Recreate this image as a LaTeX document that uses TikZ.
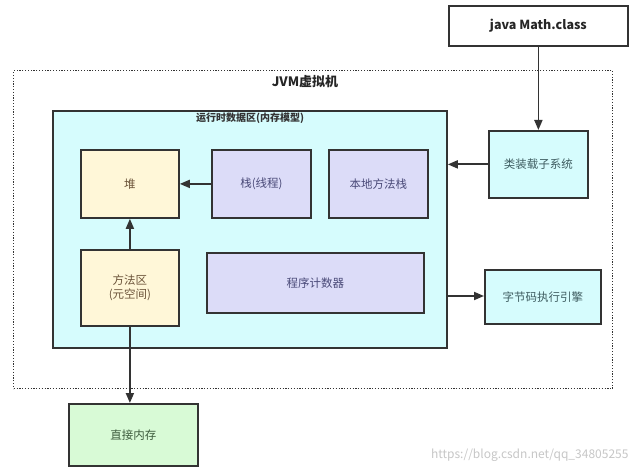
\documentclass[tikz,border=0pt]{standalone}
\usepackage{fontspec}
\setmainfont{Noto Sans CJK SC}
\usetikzlibrary{arrows.meta}
\definecolor{edge}{HTML}{333333}
\definecolor{cyanf}{HTML}{D6FCFD}
\definecolor{yelf}{HTML}{FFF7D8}
\definecolor{lavf}{HTML}{DCDCF8}
\definecolor{grnf}{HTML}{D8FAD6}
\definecolor{yelt}{HTML}{6A5238}
\definecolor{lavt}{HTML}{4A4A78}
\definecolor{cyant}{HTML}{3E5C60}
\definecolor{grnt}{HTML}{3C5A3C}
\begin{document}
\begin{tikzpicture}[x=1pt,y=-1pt,
  box/.style={draw=edge,line width=1.8pt,anchor=north west,inner sep=0pt,align=center,font=\fontsize{11.5}{14.5}\selectfont},
  yelbox/.style={box,fill=yelf,text=yelt},
  lavbox/.style={box,fill=lavf,text=lavt},
  cyanbox/.style={box,fill=cyanf,text=cyant},
  grnbox/.style={box,fill=grnf,text=grnt},
  conn/.style={draw=edge,line width=1.8pt,-{Triangle[length=10pt,width=8pt]}}]
\useasboundingbox[fill=white] (0,0) rectangle (635,476);
% outer dotted JVM box
\node[draw=edge,line width=1.4pt,dash pattern=on 1.2pt off 1.6pt,anchor=north west,minimum width=599pt,minimum height=318pt,inner sep=0pt] (jvm) at (13,70) {};
\node[font=\bfseries\fontsize{13}{15}\selectfont,text=black!85] (jvmt) at (305,82) {JVM虚拟机};
% runtime data area
\node[box,fill=cyanf,minimum width=394pt,minimum height=237pt] (rt) at (52,110) {};
\node[font=\bfseries\fontsize{10}{12}\selectfont,text=edge] (rtt) at (250,118) {运行时数据区(内存模型)};
% top box
\node[box,fill=white,text=black!85,minimum width=179pt,minimum height=40pt,font=\bfseries\fontsize{12.5}{14}\selectfont] (cls) at (448,5) {java Math.class};
% inner boxes
\node[yelbox,minimum width=98pt,minimum height=68pt] (heap) at (80,149) {堆};
\node[lavbox,minimum width=99pt,minimum height=68pt] (stack) at (211,149) {栈(线程)};
\node[lavbox,minimum width=99pt,minimum height=68pt] (native) at (328,149) {本地方法栈};
\node[yelbox,minimum width=98pt,minimum height=76pt] (meth) at (80,249) {方法区\\(元空间)};
\node[lavbox,minimum width=217pt,minimum height=60pt] (pc) at (206,252) {程序计数器};
% right side boxes
\node[cyanbox,minimum width=99pt,minimum height=67pt] (loader) at (488,130) {类装载子系统};
\node[cyanbox,minimum width=116pt,minimum height=54pt] (engine) at (484,269) {字节码执行引擎};
% bottom
\node[grnbox,minimum width=129pt,minimum height=62pt] (direct) at (68,403) {直接内存};
% watermark
\node[text=black!22,font=\fontsize{12}{14}\selectfont,anchor=east] (wm) at (632,455) {https://blog.csdn.net/qq\_34805255};
% connectors
\draw[conn] (cls.south) -- (loader.north);
\draw[conn] (loader.west) -- (loader.west -| rt.east);
\draw[conn] (stack.west) -- (heap.east);
\draw[conn] (meth.north) -- (heap.south);
\coordinate (rtout) at (446,296);
\draw[conn] (rtout) -- (rtout -| engine.west);
\draw[conn] (meth.south) -- (direct.north -| meth.south);
\end{tikzpicture}
\end{document}
